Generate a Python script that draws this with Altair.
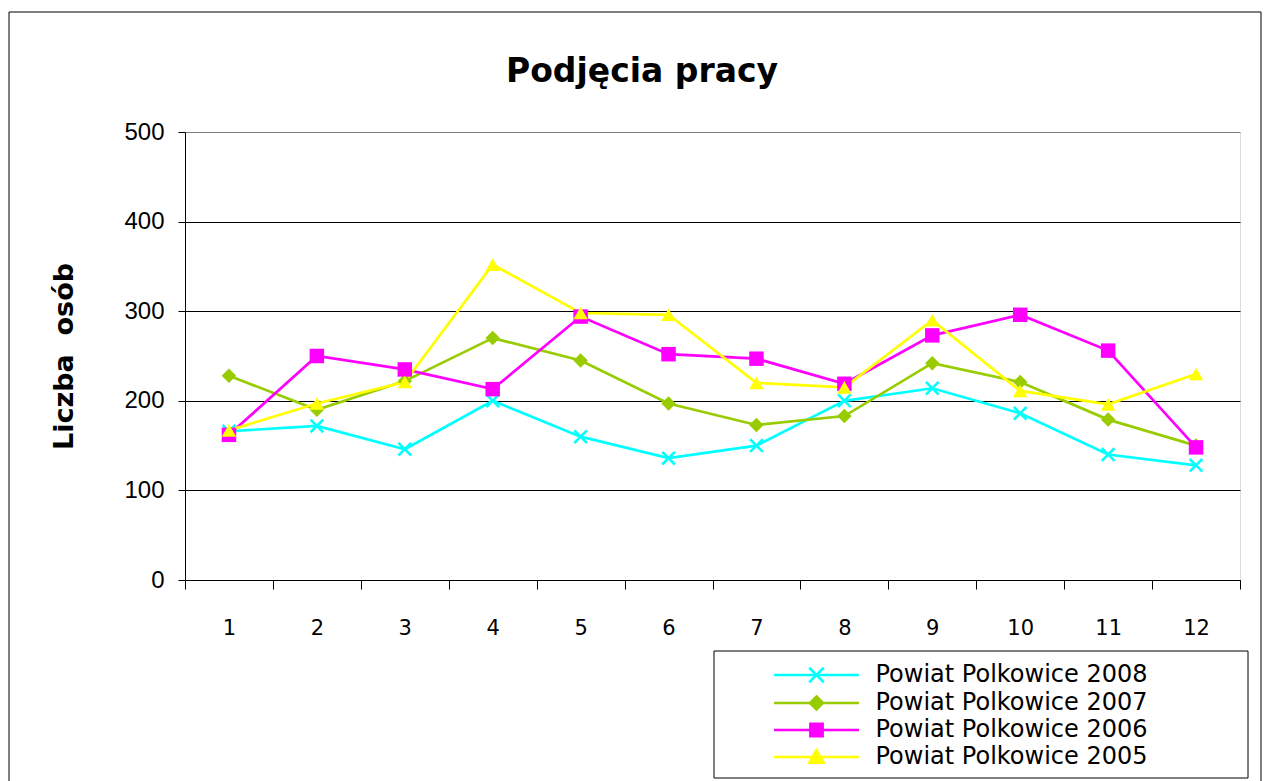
import altair as alt
import pandas as pd

months = list(range(1, 13))
series_names = ["Powiat Polkowice 2008", "Powiat Polkowice 2007",
                "Powiat Polkowice 2006", "Powiat Polkowice 2005"]
s2008 = [166, 172, 146, 200, 160, 136, 150, 200, 214, 186, 140, 128]
s2007 = [228, 190, 222, 270, 245, 197, 173, 183, 242, 221, 179, 150]
s2006 = [162, 250, 235, 213, 294, 252, 247, 219, 273, 296, 256, 148]
s2005 = [167, 197, 221, 352, 298, 296, 220, 215, 290, 211, 196, 230]
colors = ["#00FFFF", "#99CC00", "#FF00FF", "#FFFF00"]
x_tick_values = [0.5 + i for i in range(13)]
y_tick_values = [0, 100, 200, 300, 400, 500]
chart_title = "Podjęcia pracy"
y_title = "Liczba\u00a0\u00a0osób"

rows = []
for name, vals in zip(series_names, [s2008, s2007, s2006, s2005]):
    for m, v in zip(months, vals):
        rows.append({"month": m, "value": v, "series": name})
df = pd.DataFrame(rows)

# marker shapes drawn in the plot
x_shape = ("M-1,-0.75L-0.75,-1L0,-0.25L0.75,-1L1,-0.75L0.25,0L1,0.75L0.75,1"
           "L0,0.25L-0.75,1L-1,0.75L-0.25,0Z")
shapes = [x_shape, "diamond", "square", "triangle-up"]
# legend symbols: a line segment with the marker on it
seg = "M-5.86,0L5.86,0"
legend_shapes = [
    seg + "M-1,-1L1,1M-1,1L1,-1",
    seg + "M0,-0.9L0.9,0L0,0.9L-0.9,0Z",
    seg + "M-0.85,-0.85L0.85,-0.85L0.85,0.85L-0.85,0.85Z",
    seg + "M0,-0.95L1,0.8L-1,0.8Z",
]

FONT = "DejaVu Sans"

x_enc = alt.X(
    "month:Q",
    scale=alt.Scale(domain=[0.5, 12.5], nice=False, zero=False),
    axis=alt.Axis(
        values=x_tick_values,
        labelExpr="datum.value < 12 ? format(datum.value + 0.5, 'd') : ''",
        labelOffset=43.96, labelFlush=False, tickSize=9, tickColor="black",
        domainColor="black", labelFont=FONT, labelFontSize=21,
        labelColor="black", labelPadding=28, grid=False, title=None,
    ),
)
y_enc = alt.Y(
    "value:Q",
    scale=alt.Scale(domain=[0, 500], nice=False),
    axis=alt.Axis(
        values=y_tick_values, tickSize=7, tickColor="black", domainColor="black",
        gridColor={"condition": {"test": "datum.value === 500", "value": "#808080"},
                   "value": "#000000"},
        gridOpacity=1,
        labelFont="Liberation Sans", labelFontSize=24, labelColor="black",
        labelPadding=14,
        title=y_title, titleFont=FONT, titleFontSize=27,
        titleFontWeight="bold", titleColor="black",
        titleX=-121, titleY=224, titleAngle=270, titleAlign="center",
        titleBaseline="middle",
    ),
)

stroke_scale = alt.Scale(domain=series_names, range=colors)

base = alt.Chart(df)
lines = base.mark_line(strokeWidth=2.7).encode(
    x=x_enc, y=y_enc,
    stroke=alt.Stroke("series:N", scale=stroke_scale, legend=None),
)
points = base.mark_point(filled=True, size=210, opacity=1, strokeWidth=0).encode(
    x=x_enc, y=y_enc,
    fill=alt.Fill("series:N", scale=alt.Scale(domain=series_names, range=colors),
                  legend=None),
    shape=alt.Shape("series:N", scale=alt.Scale(domain=series_names, range=shapes),
                    legend=None),
)

legend_props = dict(
    orient="none", legendX=619.5, legendY=531, title=None,
    symbolSize=210, symbolStrokeWidth=2.5,
    labelFont=FONT, labelFontSize=24, labelColor="black", labelLimit=600,
    labelOffset=47, rowPadding=3, padding=0,
)
legend_layer = base.transform_filter("false").mark_point(
    filled=True, size=210, opacity=1, strokeWidth=2.5
).encode(
    x=x_enc, y=y_enc,
    fill=alt.Fill("series:N", scale=alt.Scale(domain=series_names, range=colors),
                  legend=alt.Legend(**legend_props)),
    stroke=alt.Stroke("series:N", scale=alt.Scale(domain=series_names, range=colors),
                      legend=alt.Legend(**legend_props)),
    shape=alt.Shape("series:N",
                    scale=alt.Scale(domain=series_names, range=legend_shapes),
                    legend=alt.Legend(**legend_props)),
)

one = pd.DataFrame({"a": [0]})
outer = alt.Chart(one).mark_rect(fill=None, stroke="black", strokeWidth=1).encode(
    x=alt.value(-176), x2=alt.value(1076), y=alt.value(-120), y2=alt.value(680)
)
legend_box = alt.Chart(one).mark_rect(fill=None, stroke="black", strokeWidth=1).encode(
    x=alt.value(529), x2=alt.value(1063), y=alt.value(519), y2=alt.value(646)
)
title_text = alt.Chart(one).mark_text(
    text=chart_title, font=FONT, fontSize=33, fontWeight="bold",
    color="black", align="center", baseline="alphabetic",
).encode(x=alt.value(457), y=alt.value(-50))

chart = alt.layer(outer, lines, points, legend_layer, legend_box, title_text).resolve_scale(
    shape="independent", fill="independent", stroke="independent"
).properties(
    width=1055, height=448,
    padding={"left": 0, "top": 3, "right": 0, "bottom": 0},
).configure_view(stroke="#808080", strokeWidth=1).configure(background="white")

chart.save("out.html", embed_options={"renderer": "svg", "actions": False})
